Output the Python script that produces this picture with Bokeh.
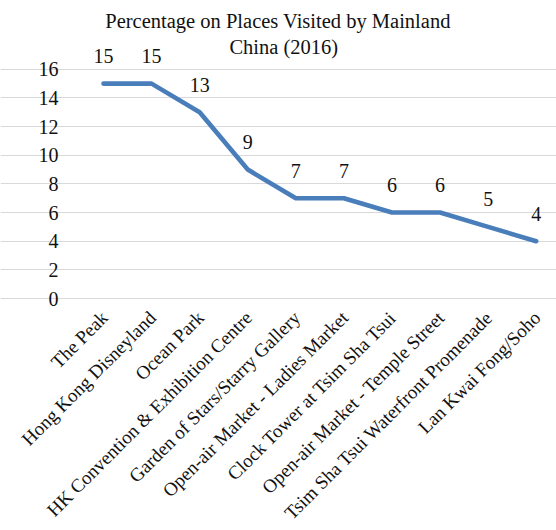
import math
from bokeh.plotting import figure
from bokeh.models import ColumnDataSource, LabelSet, Label, FixedTicker, Range1d, Grid
from bokeh.embed import file_html
from bokeh.resources import INLINE

places = [
    "The Peak",
    "Hong Kong Disneyland",
    "Ocean Park",
    "HK Convention & Exhibition Centre",
    "Garden of Stars/Starry Gallery",
    "Open-air Market - Ladies Market",
    "Clock Tower at Tsim Sha Tsui",
    "Open-air Market - Temple Street",
    "Tsim Sha Tsui Waterfront Promenade",
    "Lan Kwai Fong/Soho",
]
percentages = [15, 15, 13, 9, 7, 7, 6, 6, 5, 4]
y_ticks = [0, 2, 4, 6, 8, 10, 12, 14, 16]
title_lines = ["Percentage on Places Visited by Mainland", "China (2016)"]

FONT = "'Liberation Serif', 'Times New Roman', serif"
TEXT = "#111111"

xs = list(range(len(places)))
x_left = -0.5  # left edge of the first category slot

source = ColumnDataSource(dict(x=xs, y=percentages, label=[str(v) for v in percentages]))
cat_source = ColumnDataSource(dict(x=xs, y=[0] * len(xs), name=places))
ytick_source = ColumnDataSource(dict(x=[x_left] * len(y_ticks), y=y_ticks,
                                     label=[str(t) for t in y_ticks]))

# The frame spans the whole canvas so that the rotated category names and
# the title are not clipped; the scales keep the original plot geometry.
p = figure(
    width=556, height=530,
    output_backend="svg", toolbar_location=None,
    x_range=Range1d(-2.142, 9.422), y_range=Range1d(-16.19, 20.80),
    x_axis_location=None, y_axis_location=None,
    min_border_left=0, min_border_right=0, min_border_top=0, min_border_bottom=0,
)
p.outline_line_color = None
p.background_fill_color = "white"
p.border_fill_color = "white"
# drop any default grids
p.center = [r for r in p.center if not isinstance(r, Grid)]

# horizontal value grid, limited to the plot area
p.add_layout(Grid(dimension=1, ticker=FixedTicker(ticks=y_ticks), bounds=(x_left, 9.422),
                  grid_line_color="#d9d9d9", grid_line_width=1.2))

p.line("x", "y", source=source, line_color="#4a7ebb", line_width=4.6,
       line_join="round", line_cap="round")

# data labels
p.add_layout(LabelSet(x="x", y="y", text="label", source=source,
                      text_align="center", text_baseline="middle", y_offset=27.5,
                      text_font=FONT, text_font_size="20px", text_color=TEXT))

# value-axis tick labels
p.add_layout(LabelSet(x="x", y="y", text="label", source=ytick_source,
                      text_align="right", text_baseline="middle", x_offset=-21,
                      text_font=FONT, text_font_size="20px", text_color=TEXT))

# category-axis labels, rotated 45 degrees
p.add_layout(LabelSet(x="x", y="y", text="name", source=cat_source,
                      angle=math.pi / 4, text_align="right", text_baseline="middle",
                      x_offset=1, y_offset=-16, text_font=FONT, text_font_size="19px",
                      text_color=TEXT))

# chart title (two centred lines)
for text, tx, ty in zip(title_lines, [3.63, 3.75], [19.36, 17.55]):
    p.add_layout(Label(x=tx, y=ty, text=text, text_align="center",
                       text_baseline="middle", text_font=FONT,
                       text_font_size="20.5px", text_color=TEXT))

open("out.html", "w").write(file_html(p, INLINE))
